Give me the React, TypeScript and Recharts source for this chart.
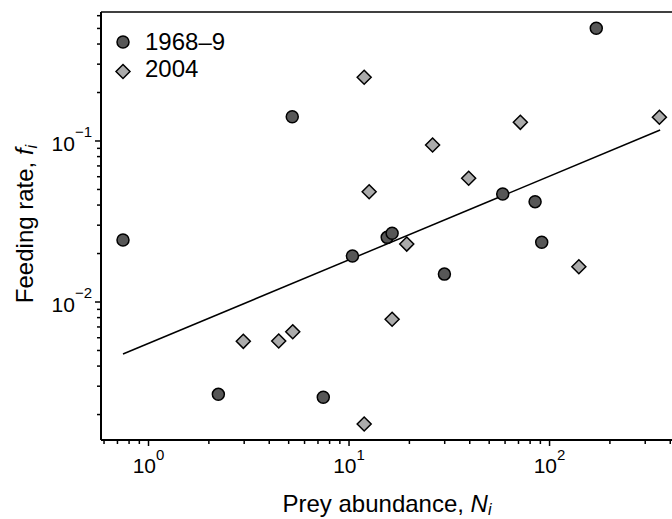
import React from 'react';
import { Legend, ReferenceLine, Scatter, ScatterChart, XAxis, YAxis } from 'recharts';

// prey abundance N_i and feeding rate f_i
const oldN = [0.746, 5.21, 171, 58.4, 84.7, 91.4, 15.5, 16.4, 10.4, 29.9, 2.23, 7.44];
const oldF = [0.0243, 0.1416, 0.501, 0.0469, 0.042, 0.0235, 0.0252, 0.0267, 0.0193, 0.0149, 0.00267, 0.00256];
const newN = [11.9, 353, 71.5, 26.1, 39.5, 12.6, 19.4, 140, 16.4, 11.9, 2.97, 4.46, 5.24];
const newF = [0.249, 0.1403, 0.1306, 0.0944, 0.0587, 0.0484, 0.0229, 0.01656, 0.00781, 0.001746, 0.0057, 0.00573, 0.00654];
const fitN = [0.746, 356];
const fitF = [0.00475, 0.117];

const xTicks = [0.6, 0.7, 0.8, 0.9, 1, 2, 3, 4, 5, 6, 7, 8, 9, 10, 20, 30, 40, 50, 60, 70, 80, 90, 100, 200, 300, 400];
const yTicks = [0.002, 0.003, 0.004, 0.005, 0.006, 0.007, 0.008, 0.009, 0.01, 0.02, 0.03, 0.04, 0.05, 0.06, 0.07, 0.08, 0.09, 0.1, 0.2, 0.3, 0.4, 0.5, 0.6];
const xMajor: Record<number, string> = { 1: '0', 10: '1', 100: '2' };
const yMajor: Record<number, string> = { 0.01: '\u22122', 0.1: '\u22121' };

const X_DOMAIN = [0.5795, 408];
const Y_DOMAIN = [0.00139, 0.6325];

const FONT = '"Liberation Sans", Arial, sans-serif';

const oldData = oldN.map((n, i) => ({ x: n, y: oldF[i] }));
const newData = newN.map((n, i) => ({ x: n, y: newF[i] }));
const fitData = fitN.map((n, i) => ({ x: n, y: fitF[i] }));

const Dot = ({ cx, cy }: any) => (
  <circle cx={cx} cy={cy} r={6} fill="#575757" stroke="#000" strokeWidth={1.5} />
);
const Diamond = ({ cx, cy }: any) => (
  <polygon
    points={`${cx},${cy - 7} ${cx + 7},${cy} ${cx},${cy + 7} ${cx - 7},${cy}`}
    fill="#ababab"
    stroke="#000"
    strokeWidth={1.5}
  />
);

const XTick = ({ x, y, payload }: any) => {
  const exp = xMajor[payload.value];
  return (
    <g>
      <line x1={x} x2={x} y1={y} y2={y + (exp ? 6 : 4)} stroke="#000" strokeWidth={1.5} />
      {exp && (
        <text x={x} y={y + 33} textAnchor="middle" fontSize={21} fontFamily={FONT} fill="#000">
          10<tspan dy={-13} fontSize={15}>{exp}</tspan>
        </text>
      )}
    </g>
  );
};

const YTick = ({ x, y, payload }: any) => {
  const exp = yMajor[payload.value];
  return (
    <g>
      <line x1={x} x2={x - (exp ? 6 : 4)} y1={y} y2={y} stroke="#000" strokeWidth={1.5} />
      {exp && (
        <text x={x - 9} y={y + 10} textAnchor="end" fontSize={21} fontFamily={FONT} fill="#000">
          10<tspan dy={-14} fontSize={15}>{exp}</tspan>
        </text>
      )}
    </g>
  );
};

const LegendBox = () => (
  <svg width={150} height={70} style={{ overflow: 'visible' }}>
    <Dot cx={15} cy={22} />
    <text x={37} y={29.5} fontSize={24} fontFamily={FONT} fill="#000">1968–9</text>
    <Diamond cx={15} cy={51.5} />
    <text x={37} y={57} fontSize={24} fontFamily={FONT} fill="#000">2004</text>
  </svg>
);

export default function App() {
  return (
    <div style={{ position: 'absolute', left: 0, top: 0 }}>
      <ScatterChart width={672} height={519} margin={{ top: 12, right: 0, bottom: 0, left: 0 }}>
        <XAxis
          type="number"
          dataKey="x"
          scale="log"
          domain={X_DOMAIN}
          allowDataOverflow
          ticks={xTicks}
          interval={0}
          tick={<XTick />}
          tickLine={false}
          tickSize={0}
          tickMargin={0}
          height={79}
          axisLine={{ stroke: '#000', strokeWidth: 2 }}
          label={{
            content: () => (
              <text x={387} y={512} textAnchor="middle" fontSize={24} fontFamily={FONT} fill="#000">
                Prey abundance, <tspan fontStyle="italic">N</tspan>
                <tspan fontStyle="italic" fontSize={16} dy={3}>i</tspan>
              </text>
            ),
          }}
        />
        <YAxis
          type="number"
          dataKey="y"
          scale="log"
          domain={Y_DOMAIN}
          allowDataOverflow
          ticks={yTicks}
          interval={0}
          tick={<YTick />}
          tickLine={false}
          tickSize={0}
          tickMargin={0}
          width={101}
          axisLine={{ stroke: '#000', strokeWidth: 2 }}
          label={{
            content: () => (
              <text
                x={33}
                y={224}
                transform="rotate(-90 33 224)"
                textAnchor="middle"
                fontSize={24}
                fontFamily={FONT}
                fill="#000"
              >
                Feeding rate, <tspan fontStyle="italic">f</tspan>
                <tspan fontStyle="italic" fontSize={16} dy={4}>i</tspan>
              </text>
            ),
          }}
        />
        <ReferenceLine y={Y_DOMAIN[1]} stroke="#000" strokeWidth={1.5} />
        <Legend
          layout="vertical"
          align="center"
          verticalAlign="middle"
          wrapperStyle={{ top: 20, left: 108, width: 150 }}
          content={() => <LegendBox />}
        />
        <Scatter
          data={fitData}
          line={{ stroke: '#000', strokeWidth: 1.5 }}
          shape={() => <g />}
          isAnimationActive={false}
        />
        <Scatter data={oldData} shape={<Dot />} isAnimationActive={false} />
        <Scatter data={newData} shape={<Diamond />} isAnimationActive={false} />
      </ScatterChart>
    </div>
  );
}
